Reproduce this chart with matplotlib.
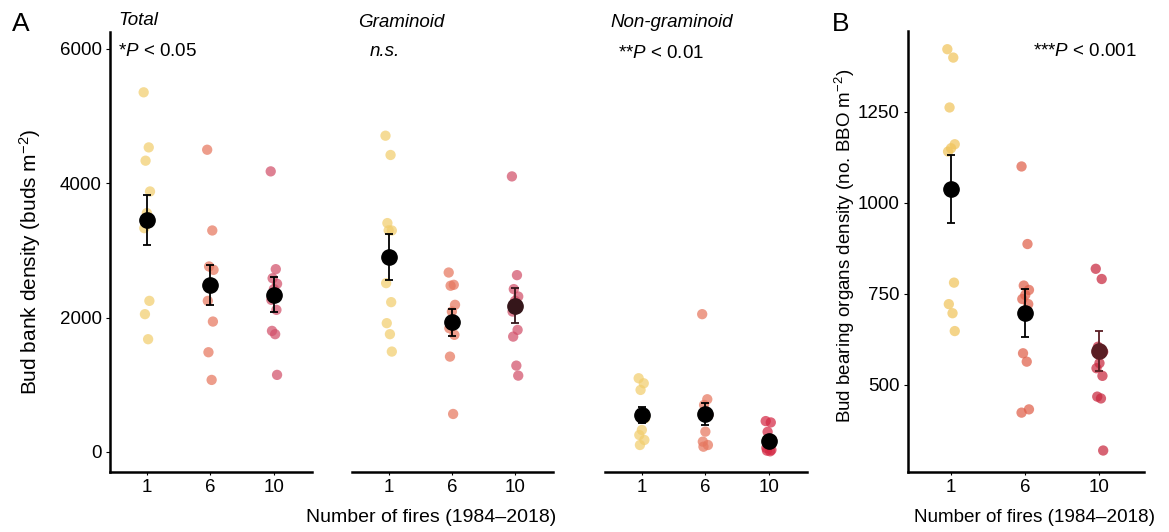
import numpy as np
import matplotlib
matplotlib.use("Agg")
import matplotlib.pyplot as plt

plt.rcParams['font.family'] = ['Liberation Sans', 'DejaVu Sans']
plt.rcParams['mathtext.fontset'] = 'custom'
plt.rcParams['mathtext.rm'] = 'Liberation Sans'
plt.rcParams['mathtext.it'] = 'Liberation Sans:italic'

# ---------------- data ----------------
fire_labels = ["1", "6", "10"]

total_1 = [5355, 4535, 4337, 3879, 3557, 3333, 2250, 2052, 1679]
total_6 = [4500, 3298, 2762, 2712, 2500, 2250, 1942, 1485, 1073]
total_10 = [4178, 2722, 2587, 2504, 2425, 2265, 2116, 1803, 1754, 1148]
total_mean = [3450, 2490, 2340]
total_se = [370, 300, 260]

gram_1 = [4709, 4422, 3408, 3298, 3300, 2514, 2231, 1918, 1754, 1495]
gram_6 = [2672, 2489, 2475, 2191, 2091, 1843, 1744, 1420, 566]
gram_10 = [4103, 2633, 2425, 2315, 2250, 2091, 1818, 1718, 1286, 1137]
gram_mean = [2900, 1930, 2180]
gram_se = [340, 200, 260]

nongram_1 = [1098, 1023, 924, 500, 328, 253, 179, 104]
nongram_6 = [2052, 785, 700, 551, 303, 154, 104, 79]
nongram_10 = [460, 440, 300, 180, 100, 60, 30, 20, 10]
nongram_mean = [550, 560, 170]
nongram_se = [115, 165, 60]

bbo_1 = [1422, 1399, 1262, 1161, 1150, 1141, 781, 722, 697, 648]
bbo_6 = [1100, 887, 773, 761, 747, 736, 722, 587, 564, 433, 424]
bbo_10 = [819, 791, 605, 591, 560, 546, 525, 468, 463, 320]
bbo_mean = [1038, 697, 593]
bbo_se = [94, 66, 55]

# ---------------- styles ----------------
W, H = 1169, 532
fig = plt.figure(figsize=(W / 100, H / 100), dpi=100)

pt_colors_A = ["#F2CE6E", "#E6775F", "#D2506A"]
pt_colors_non = ["#F2CE6E", "#E6775F", "#D42A45"]
pt_colors_B = ["#F0C45C", "#E0604A", "#C8283F"]


def px_axes(x0, x1, ytop, ybot):
    return fig.add_axes([x0 / W, 1 - ybot / H, (x1 - x0) / W, (ybot - ytop) / H])


def jitter(n):
    base = np.array([-0.05, 0.03, -0.02, 0.05, 0.0, -0.04, 0.04, -0.03, 0.02, 0.05, -0.05])
    return base[:n]


def draw_panel(ax, groups, means, ses, colors, mean_colors, ylim, show_y):
    for i, vals in enumerate(groups):
        xs = i + jitter(len(vals))
        ax.scatter(xs, vals, s=55, color=colors[i], alpha=0.72, edgecolors='none', zorder=2)
    for i in range(3):
        ax.errorbar(i, means[i], yerr=ses[i], fmt='o', color=mean_colors[i], ms=11,
                    mec=mean_colors[i], ecolor=mean_colors[i], elinewidth=1.3,
                    capsize=3.2, capthick=1.3, zorder=4)
    ax.set_xlim(-0.58, 2.6)
    ax.set_ylim(*ylim)
    ax.set_xticks(range(3))
    ax.set_xticklabels(fire_labels, fontsize=13.5)
    ax.spines['top'].set_visible(False)
    ax.spines['right'].set_visible(False)
    ax.spines['bottom'].set_linewidth(1.8)
    ax.tick_params(axis='x', length=2, width=0.8, pad=3)
    if show_y:
        ax.spines['left'].set_linewidth(1.8)
        ax.tick_params(axis='y', length=3, width=0.8, pad=3, labelsize=13.5)
    else:
        ax.spines['left'].set_visible(False)
        ax.set_yticks([])


ylimA = (-298, 6253)
ax1 = px_axes(110, 312, 32, 472)
draw_panel(ax1, [total_1, total_6, total_10], total_mean, total_se, pt_colors_A,
           ["black", "black", "black"], ylimA, True)
ax1.set_yticks([0, 2000, 4000, 6000])

ax2 = px_axes(352, 553, 32, 472)
draw_panel(ax2, [gram_1, gram_6, gram_10], gram_mean, gram_se, pt_colors_A,
           ["black", "black", "#35161A"], ylimA, False)

ax3 = px_axes(605, 807, 32, 472)
draw_panel(ax3, [nongram_1, nongram_6, nongram_10], nongram_mean, nongram_se, pt_colors_non,
           ["black", "black", "black"], ylimA, False)

ax4 = px_axes(908, 1144, 31, 472)
draw_panel(ax4, [bbo_1, bbo_6, bbo_10], bbo_mean, bbo_se, pt_colors_B,
           ["black", "black", "#5A1E24"], (261, 1472), True)
ax4.set_yticks([500, 750, 1000, 1250])


def ftext(x, y, s, **kw):
    fig.text(x / W, 1 - y / H, s, **kw)


ftext(12, 12, "A", fontsize=19, va='top', ha='left')
ftext(832, 12, "B", fontsize=19, va='top', ha='left')

ftext(118, 12, "Total", fontsize=13.5, style='italic', va='top')
ftext(118, 43, r"*$\it{P}$ < 0.05", fontsize=13.5, va='top')
ftext(358, 14, "Graminoid", fontsize=13.5, style='italic', va='top')
ftext(370, 43, "n.s.", fontsize=13.5, style='italic', va='top')
ftext(610, 14, "Non-graminoid", fontsize=13.5, style='italic', va='top')
ftext(618, 45, r"**$\it{P}$ < 0.01", fontsize=13.5, va='top')
ftext(1033, 43, r"***$\it{P}$ < 0.001", fontsize=13.5, va='top')

ftext(30, 262, r"Bud bank density (buds m$^{-2}$)", fontsize=15, rotation=90,
      va='center', ha='center')
ftext(845, 246, r"Bud bearing organs density (no. BBO m$^{-2}$)", fontsize=13.5, rotation=90,
      va='center', ha='center')

ftext(431, 518, "Number of fires (1984–2018)", fontsize=14, va='center', ha='center')
ftext(1035, 518, "Number of fires (1984–2018)", fontsize=13.6, va='center', ha='center')

fig.savefig("out.png", dpi=100)
